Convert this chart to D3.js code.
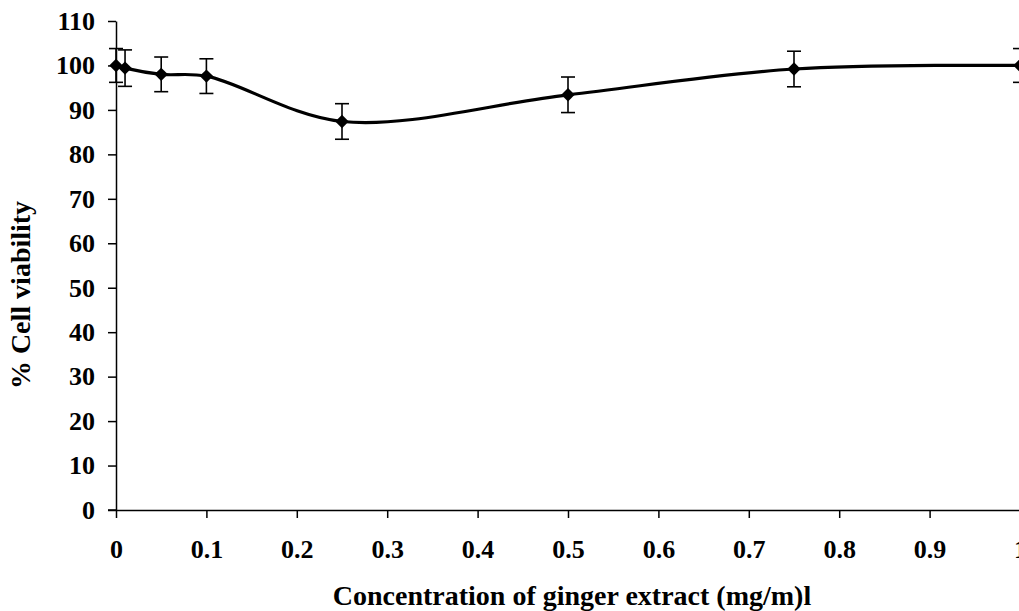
<!DOCTYPE html>
<html><head><meta charset="utf-8">
<script src="https://cdn.jsdelivr.net/npm/d3@7"></script>
<style>body{margin:0;background:#fff}</style>
</head><body>
<svg id="c" width="1019" height="611"></svg>
<script>
const concentrations = [0, 0.01, 0.05, 0.1, 0.25, 0.5, 0.75, 1];
const viability = [100.0, 99.4, 98.0, 97.6, 87.4, 93.4, 99.2, 100.0];
const errors = [3.8, 4.1, 3.9, 3.9, 4.0, 4.0, 4.0, 3.8];
const xTicks = [0, 0.1, 0.2, 0.3, 0.4, 0.5, 0.6, 0.7, 0.8, 0.9, 1];
const yTicks = [0, 10, 20, 30, 40, 50, 60, 70, 80, 90, 100, 110];
const xTitle = "Concentration of ginger extract (mg/m)l";
const yTitle = "% Cell viability";

const svg = d3.select("#c");
const font = "'Liberation Serif','Times New Roman',serif";
const x = d3.scaleLinear().domain([0, 1]).range([116, 1020]);
const y = d3.scaleLinear().domain([0, 110]).range([510, 21]);

const xAxis = svg.append("g").attr("transform", "translate(0,510)")
  .call(d3.axisBottom(x).tickValues(xTicks).tickSize(8).tickPadding(22)
    .tickFormat(d => d3.format("")(d)).tickSizeOuter(0));
const yAxis = svg.append("g").attr("transform", "translate(116,0)")
  .call(d3.axisLeft(y).tickValues(yTicks).tickSize(8).tickPadding(13).tickSizeOuter(0));
[xAxis, yAxis].forEach(a => {
  a.select(".domain").attr("stroke", "#000").attr("stroke-width", 1.5);
  a.selectAll(".tick line").attr("stroke", "#000").attr("stroke-width", 1.5);
  a.selectAll("text").attr("font-family", font).attr("font-weight", "bold")
    .attr("font-size", 26).attr("fill", "#000");
});
svg.append("line").attr("x1", 108).attr("x2", 116).attr("y1", 510).attr("y2", 510)
  .attr("stroke", "#000").attr("stroke-width", 1.5);

const data = concentrations.map((c, i) => ({c, v: viability[i], e: errors[i]}));

const line = d3.line().x(d => x(d.c)).y(d => y(d.v)).curve(d3.curveCatmullRom.alpha(0.5));
svg.append("path").datum(data).attr("d", line).attr("fill", "none")
  .attr("stroke", "#000").attr("stroke-width", 3.2);

const eb = svg.append("g").attr("stroke", "#000").attr("stroke-width", 1.6);
data.forEach(d => {
  const cx = x(d.c);
  eb.append("line").attr("x1", cx).attr("x2", cx).attr("y1", y(d.v + d.e)).attr("y2", y(d.v - d.e));
  [d.v + d.e, d.v - d.e].forEach(v => {
    eb.append("line").attr("x1", cx - 7).attr("x2", cx + 7).attr("y1", y(v)).attr("y2", y(v));
  });
});

svg.append("g").selectAll("path").data(data).join("path")
  .attr("d", d3.symbol(d3.symbolSquare, 90))
  .attr("transform", d => `translate(${x(d.c)},${y(d.v)}) rotate(45)`)
  .attr("fill", "#000");

svg.append("text").attr("x", 572).attr("y", 605).attr("text-anchor", "middle")
  .attr("font-family", font).attr("font-weight", "bold").attr("font-size", 28).text(xTitle);
svg.append("text").attr("transform", "translate(30,295) rotate(-90)").attr("text-anchor", "middle")
  .attr("font-family", font).attr("font-weight", "bold").attr("font-size", 28).text(yTitle);
</script>
</body></html>
